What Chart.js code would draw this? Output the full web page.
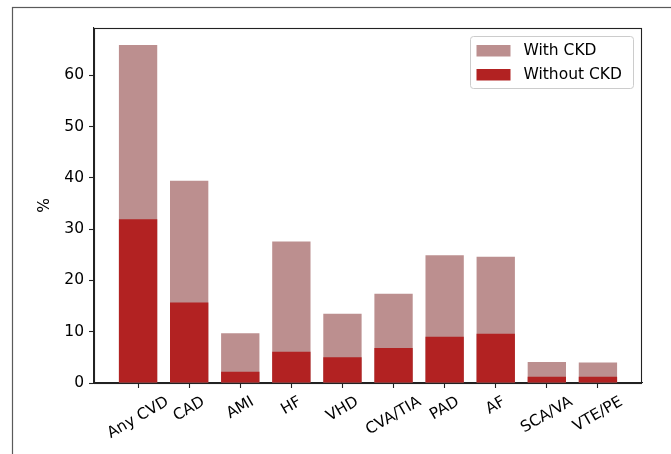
<!DOCTYPE html>
<html>
<head>
<meta charset="utf-8">
<script src="https://cdn.jsdelivr.net/npm/chart.js@4.4.1/dist/chart.umd.min.js"></script>
<style>
  html, body { margin: 0; padding: 0; background: #ffffff; }
  #wrap { width: 671px; height: 454px; position: relative; }
</style>
</head>
<body>
<div id="wrap"><canvas id="c" width="671" height="454"></canvas></div>
<script>
// Prevalence of cardiovascular conditions, by CKD status
const categories = ['Any CVD', 'CAD', 'AMI', 'HF', 'VHD', 'CVA/TIA', 'PAD', 'AF', 'SCA/VA', 'VTE/PE'];
const withCKD    = [65.9, 39.4, 9.7, 27.6, 13.5, 17.4, 24.9, 24.6, 4.1, 4.0];
const withoutCKD = [31.9, 15.7, 2.2, 6.1, 5.0, 6.8, 9.0, 9.6, 1.2, 1.2];
const yTicks     = [0, 10, 20, 30, 40, 50, 60];
const seriesNames = ['With CKD', 'Without CKD'];
const seriesColors = ['#bc8f8f', '#b22222'];

const FONT = 'DejaVu Sans';
const FSIZE = 15.5;
Chart.defaults.font.family = FONT;
Chart.defaults.font.size = FSIZE;
Chart.defaults.color = '#000000';

const toPoints = arr => arr.map((v, i) => ({ x: i, y: v }));

// bars span +-0.375 around each category; 5% margin on both sides
const halfBar = 0.375;
const span = (categories.length - 1) + 2 * halfBar;
const xMin = -halfBar - 0.05 * span;
const xMax = categories.length - 1 + halfBar + 0.05 * span;
const yMax = Math.max(...withCKD, ...withoutCKD) * 1.05;

// outer figure frame, axes frame, rotated category labels and legend box
const decorations = {
  id: 'decorations',
  beforeDraw(chart) {
    const ctx = chart.ctx;
    ctx.save();
    ctx.fillStyle = '#ffffff';
    ctx.fillRect(0, 0, chart.width, chart.height);
    ctx.strokeStyle = '#5a5a5a';
    ctx.lineWidth = 1.2;
    ctx.strokeRect(12.5, 7.5, chart.width + 20, chart.height + 20);
    ctx.restore();
  },
  afterDraw(chart) {
    const ctx = chart.ctx;
    const a = chart.chartArea;
    const xs = chart.scales.x;
    ctx.save();

    // axes frame
    ctx.strokeStyle = '#222222';
    ctx.lineWidth = 1.1;
    ctx.strokeRect(Math.round(a.left) + 0.5, Math.round(a.top) + 0.5,
                   Math.round(a.right - a.left) - 1, Math.round(a.bottom - a.top));

    // category labels, rotated 30 degrees and centred under each tick
    ctx.font = FSIZE + 'px "' + FONT + '"';
    ctx.fillStyle = '#000000';
    ctx.textAlign = 'center';
    ctx.textBaseline = 'middle';
    const ang = 30 * Math.PI / 180;
    const h = FSIZE * 1.16;
    const topY = a.bottom + 10;
    categories.forEach((lab, i) => {
      const w = ctx.measureText(lab).width;
      const bh = w * Math.sin(ang) + h * Math.cos(ang);
      const cx = xs.getPixelForValue(i);
      const cy = topY + bh / 2;
      ctx.save();
      ctx.translate(cx, cy);
      ctx.rotate(-ang);
      ctx.fillText(lab, 0, 0);
      ctx.restore();
    });

    // legend
    const bx = a.right - 8.5, by = a.top + 8.5;
    const bw = 163, bhgt = 52, r = 3;
    const left = bx - bw;
    ctx.beginPath();
    ctx.moveTo(left + r, by);
    ctx.lineTo(bx - r, by);
    ctx.arcTo(bx, by, bx, by + r, r);
    ctx.lineTo(bx, by + bhgt - r);
    ctx.arcTo(bx, by + bhgt, bx - r, by + bhgt, r);
    ctx.lineTo(left + r, by + bhgt);
    ctx.arcTo(left, by + bhgt, left, by + bhgt - r, r);
    ctx.lineTo(left, by + r);
    ctx.arcTo(left, by, left + r, by, r);
    ctx.closePath();
    ctx.fillStyle = 'rgba(255,255,255,0.8)';
    ctx.fill();
    ctx.strokeStyle = '#cccccc';
    ctx.lineWidth = 1;
    ctx.stroke();

    ctx.textAlign = 'left';
    ctx.textBaseline = 'middle';
    seriesNames.forEach((name, k) => {
      const rowY = by + 14 + k * 24;
      ctx.fillStyle = seriesColors[k];
      ctx.fillRect(left + 6, rowY - 5.5, 34, 11.5);
      ctx.fillStyle = '#000000';
      ctx.fillText(name, left + 53, rowY + 0.5);
    });
    ctx.restore();
  }
};

new Chart(document.getElementById('c'), {
  type: 'bar',
  data: {
    datasets: [
      { label: seriesNames[0], data: toPoints(withCKD), backgroundColor: seriesColors[0],
        borderWidth: 0, order: 1, categoryPercentage: 1.0, barPercentage: 0.75 },
      { label: seriesNames[1], data: toPoints(withoutCKD), backgroundColor: seriesColors[1],
        borderWidth: 0, order: 0, categoryPercentage: 1.0, barPercentage: 0.75 }
    ]
  },
  options: {
    responsive: false,
    animation: false,
    devicePixelRatio: 1,
    layout: { padding: { left: 32, top: 28, right: 29, bottom: 0 } },
    plugins: {
      legend: { display: false },
      tooltip: { enabled: false }
    },
    scales: {
      x: {
        type: 'linear',
        stacked: true,
        offset: false,
        min: xMin,
        max: xMax,
        afterBuildTicks(scale) { scale.ticks = categories.map((_, i) => ({ value: i })); },
        afterFit(scale) { scale.height = 71; },
        ticks: { display: false },
        grid: { offset: false, drawOnChartArea: false, drawTicks: true, tickLength: 5, tickColor: '#222222', tickWidth: 1.1 },
        border: { display: true, color: '#222222', width: 1.1 }
      },
      y: {
        stacked: false,
        min: 0,
        max: yMax,
        afterBuildTicks(scale) { scale.ticks = yTicks.map(v => ({ value: v })); },
        afterFit(scale) { scale.width = 62; },
        ticks: { padding: 5, color: '#000000', font: { size: FSIZE } },
        grid: { drawOnChartArea: false, drawTicks: true, tickLength: 5, tickColor: '#222222', tickWidth: 1.1 },
        border: { display: true, color: '#222222', width: 1.1 },
        title: { display: true, text: '%', color: '#000000', font: { size: FSIZE }, padding: { top: 4, bottom: 4 } }
      }
    }
  },
  plugins: [decorations]
});
</script>
</body>
</html>
